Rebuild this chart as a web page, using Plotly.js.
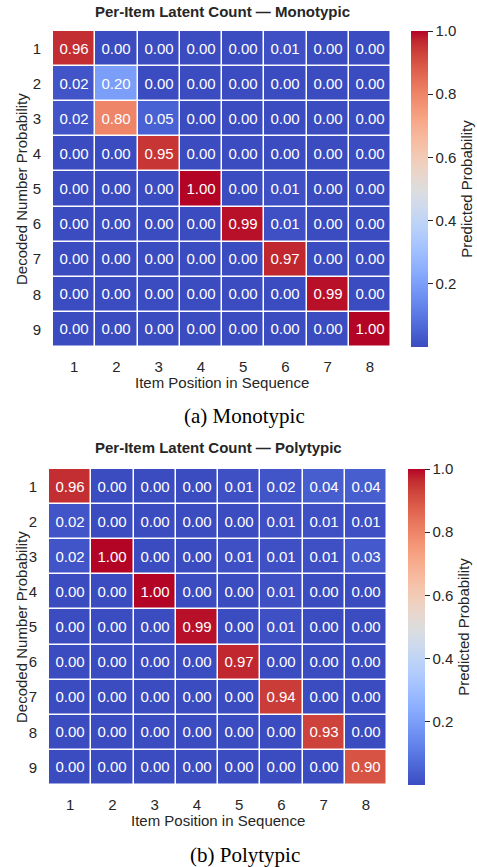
<!DOCTYPE html>
<html>
<head>
<meta charset="utf-8">
<script src="https://cdn.plot.ly/plotly-3.0.1.min.js"></script>
<style>html,body{margin:0;padding:0;background:#fff;}#chart{width:477px;height:867px;}</style>
</head>
<body>
<div id="chart"></div>
<script>
// ---- data ----
const positions = ['1','2','3','4','5','6','7','8'];
const decodedNumbers = ['1','2','3','4','5','6','7','8','9'];
const monotypic = [
  [0.96,0.00,0.00,0.00,0.00,0.01,0.00,0.00],
  [0.02,0.20,0.00,0.00,0.00,0.00,0.00,0.00],
  [0.02,0.80,0.05,0.00,0.00,0.00,0.00,0.00],
  [0.00,0.00,0.95,0.00,0.00,0.00,0.00,0.00],
  [0.00,0.00,0.00,1.00,0.00,0.01,0.00,0.00],
  [0.00,0.00,0.00,0.00,0.99,0.01,0.00,0.00],
  [0.00,0.00,0.00,0.00,0.00,0.97,0.00,0.00],
  [0.00,0.00,0.00,0.00,0.00,0.00,0.99,0.00],
  [0.00,0.00,0.00,0.00,0.00,0.00,0.00,1.00]
];
const polytypic = [
  [0.96,0.00,0.00,0.00,0.01,0.02,0.04,0.04],
  [0.02,0.00,0.00,0.00,0.00,0.01,0.01,0.01],
  [0.02,1.00,0.00,0.00,0.01,0.01,0.01,0.03],
  [0.00,0.00,1.00,0.00,0.00,0.01,0.00,0.00],
  [0.00,0.00,0.00,0.99,0.00,0.01,0.00,0.00],
  [0.00,0.00,0.00,0.00,0.97,0.00,0.00,0.00],
  [0.00,0.00,0.00,0.00,0.00,0.94,0.00,0.00],
  [0.00,0.00,0.00,0.00,0.00,0.00,0.93,0.00],
  [0.00,0.00,0.00,0.00,0.00,0.00,0.00,0.90]
];
const titles = ['Per-Item Latent Count — Monotypic', 'Per-Item Latent Count — Polytypic'];
const captions = ['(a) Monotypic', '(b) Polytypic'];
const xTitle = 'Item Position in Sequence';
const yTitle = 'Decoded Number Probability';
const cbTitle = 'Predicted Probability';
const cbTicks = [0.2, 0.4, 0.6, 0.8, 1.0];

// matplotlib coolwarm
const cwRGB = [[59,76,192],[68,90,204],[77,104,215],[87,117,225],[98,130,234],[108,142,241],[119,154,247],[130,165,251],[141,176,254],[152,185,255],[163,194,255],[174,201,253],[184,208,249],[194,213,244],[204,217,238],[213,219,230],[221,221,221],[229,216,209],[236,211,197],[241,204,184],[245,196,172],[247,187,160],[247,177,148],[247,166,135],[244,154,123],[241,141,111],[236,127,99],[229,112,88],[222,96,77],[213,80,66],[203,62,56],[192,40,47],[180,4,38]];
const coolwarm = cwRGB.map((c,i)=>[i/(cwRGB.length-1), `rgb(${c[0]},${c[1]},${c[2]})`]);

const W = 477, H = 867;
const fx = p => p / W;
const fy = p => 1 - p / H;
const FONT = 'Liberation Sans, Arial, sans-serif';
const TXT = '#262626';
const FS = 15;

// pixel boxes
const boxes = [
  {l:53, r:391, t:31, b:347, cbx:411, titleY:11, tickY:364, xtY:382, capY:416},
  {l:49, r:387, t:469, b:785, cbx:408, titleY:448, tickY:802, xtY:820, capY:855}
];
const datasets = [monotypic, polytypic];

const traces = [];
const layout = {
  width: W, height: H,
  margin: {l:0, r:0, t:0, b:0},
  paper_bgcolor: '#fff', plot_bgcolor: '#fff',
  font: {family: FONT, color: TXT, size: FS},
  annotations: []
};

boxes.forEach((b, i) => {
  const xa = i === 0 ? 'x' : 'x2';
  const ya = i === 0 ? 'y' : 'y2';
  traces.push({
    type: 'heatmap',
    x: positions, y: decodedNumbers, z: datasets[i],
    xaxis: xa, yaxis: ya,
    colorscale: coolwarm, zmin: 0, zmax: 1,
    xgap: 1.5, ygap: 1.5,
    texttemplate: '%{z:.2f}',
    textfont: {family: FONT, size: FS, color: '#ffffff'},
    hoverinfo: 'skip',
    colorbar: {
      x: fx(b.cbx), xanchor: 'left', xpad: 0, ypad: 0,
      y: (fy(b.t) + fy(b.b)) / 2, yanchor: 'middle',
      len: (b.b - b.t) / H, lenmode: 'fraction',
      thickness: 17, thicknessmode: 'pixels',
      outlinewidth: 0,
      ticks: 'outside', ticklen: 5, tickwidth: 1, tickcolor: TXT,
      tickvals: cbTicks, ticktext: cbTicks.map(v => v.toFixed(1)),
      tickfont: {family: FONT, size: FS, color: TXT},
      title: {text: cbTitle, side: 'right', font: {family: FONT, size: FS, color: TXT}}
    }
  });
  const xKey = i === 0 ? 'xaxis' : 'xaxis2';
  const yKey = i === 0 ? 'yaxis' : 'yaxis2';
  layout[xKey] = {
    domain: [fx(b.l), fx(b.r)], anchor: ya,
    type: 'category', showgrid: false, zeroline: false, showline: false,
    ticks: 'outside', ticklen: 6, tickcolor: 'rgba(0,0,0,0)',
    tickfont: {family: FONT, size: FS, color: TXT}, fixedrange: true
  };
  layout[yKey] = {
    domain: [fy(b.b), fy(b.t)], anchor: xa,
    type: 'category', autorange: 'reversed',
    showgrid: false, zeroline: false, showline: false,
    ticks: 'outside', ticklen: 8, tickcolor: 'rgba(0,0,0,0)',
    tickfont: {family: FONT, size: FS, color: TXT}, fixedrange: true
  };
  const cx = (b.l + b.r) / 2;
  layout.annotations.push(
    {text: '<b>' + titles[i] + '</b>', xref: 'paper', yref: 'paper', x: fx(cx), y: fy(b.titleY),
     xanchor: 'center', yanchor: 'middle', showarrow: false, font: {family: FONT, size: FS, color: TXT}},
    {text: xTitle, xref: 'paper', yref: 'paper', x: fx(cx), y: fy(b.xtY),
     xanchor: 'center', yanchor: 'middle', showarrow: false, font: {family: FONT, size: FS, color: TXT}},
    {text: yTitle, xref: 'paper', yref: 'paper', x: fx(21), y: fy((b.t + b.b) / 2), textangle: -90,
     xanchor: 'center', yanchor: 'middle', showarrow: false, font: {family: FONT, size: FS, color: TXT}},
    {text: captions[i], xref: 'paper', yref: 'paper', x: fx(245), y: fy(b.capY),
     xanchor: 'center', yanchor: 'middle', showarrow: false,
     font: {family: 'Liberation Serif, Times New Roman, serif', size: 21, color: '#000'}}
  );
});

Plotly.newPlot('chart', traces, layout, {displayModeBar: false, staticPlot: true});
</script>
</body>
</html>
